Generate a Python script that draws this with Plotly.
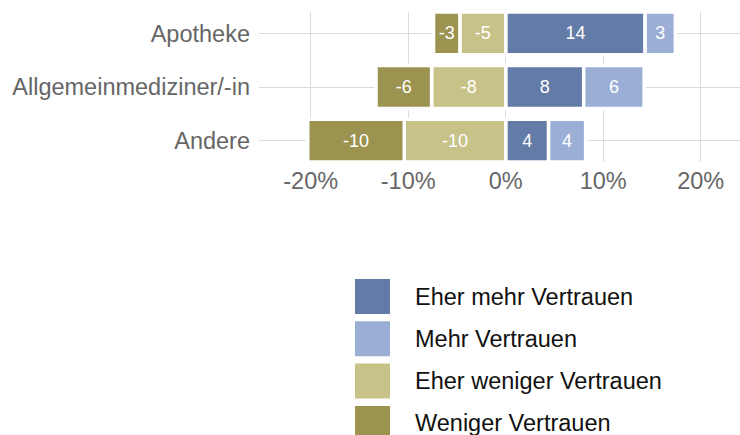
import plotly.graph_objects as go

categories = ["Apotheke", "Allgemeinmediziner/-in", "Andere"]
series_names = ["Eher mehr Vertrauen", "Mehr Vertrauen", "Eher weniger Vertrauen", "Weniger Vertrauen"]
eher_mehr = [14.3, 8.0, 4.4]
mehr = [3.1, 6.2, 3.8]
eher_weniger = [-4.7, -7.6, -10.4]
weniger = [-2.7, -5.7, -9.9]
tick_values = [-20, -10, 0, 10, 20]
tick_labels = [f"{v}%" for v in tick_values]

colors = ["#637BA7", "#9BAFD6", "#C7C287", "#9B934F"]
series_values = [eher_mehr, mehr, eher_weniger, weniger]

FONT = "Liberation Sans, Arial, Helvetica, sans-serif"
W, H = 740, 435
L, R, T, B = 259, 0, 12, 273

fig = go.Figure()
for name, vals, col in zip(series_names, series_values, colors):
    fig.add_trace(go.Bar(
        y=categories, x=vals, name=name, orientation="h",
        marker=dict(color=col, line=dict(color="white", width=3.5)),
        text=[str(round(v)) for v in vals],
        textposition="inside", insidetextanchor="middle",
        textfont=dict(color="white", size=18, family=FONT),
        width=0.8, showlegend=False,
    ))

# manual legend (big square keys)
pw = W - L - R
ph = H - T - B
def px2x(px):
    return (px - L) / pw
def py2y(py):
    return (H - B - py) / ph

shapes = []
annotations = []
for i, (name, col) in enumerate(zip(series_names, colors)):
    cy = 296.5 + i * 42.3
    shapes.append(dict(type="rect", xref="paper", yref="paper",
                       x0=px2x(355), x1=px2x(390), y0=py2y(cy + 17.5), y1=py2y(cy - 17.5),
                       fillcolor=col, line=dict(width=0), layer="above"))
    annotations.append(dict(xref="paper", yref="paper", x=px2x(413), y=py2y(cy),
                            xanchor="left", yanchor="middle", text=name, showarrow=False,
                            font=dict(size=23.5, color="#111111", family=FONT)))

fig.update_layout(
    width=W, height=H,
    margin=dict(l=L, r=R, t=T, b=B, autoexpand=False),
    barmode="relative",
    plot_bgcolor="white", paper_bgcolor="white",
    shapes=shapes, annotations=annotations,
    uniformtext=dict(minsize=18, mode="show"),
    font=dict(family=FONT),
)
fig.update_xaxes(
    range=[-25.3, 24.03], tickvals=tick_values, ticktext=tick_labels,
    showgrid=True, gridcolor="#DADADA", gridwidth=1, zeroline=False,
    showline=False, ticks="", tickfont=dict(size=23.5, color="#666666"),
    ticklabelstandoff=2, automargin=False,
)
fig.update_yaxes(
    type="category", categoryorder="array", categoryarray=categories,
    range=[2.4, -0.4], showgrid=True, gridcolor="#DADADA", gridwidth=1,
    zeroline=False, showline=False, ticks="",
    tickfont=dict(size=23.5, color="#666666"), ticklabelstandoff=8, automargin=False,
)

fig.write_html("out.html", config={"displayModeBar": False},
               post_script="document.body.style.margin='0';document.body.style.overflow='hidden';")
